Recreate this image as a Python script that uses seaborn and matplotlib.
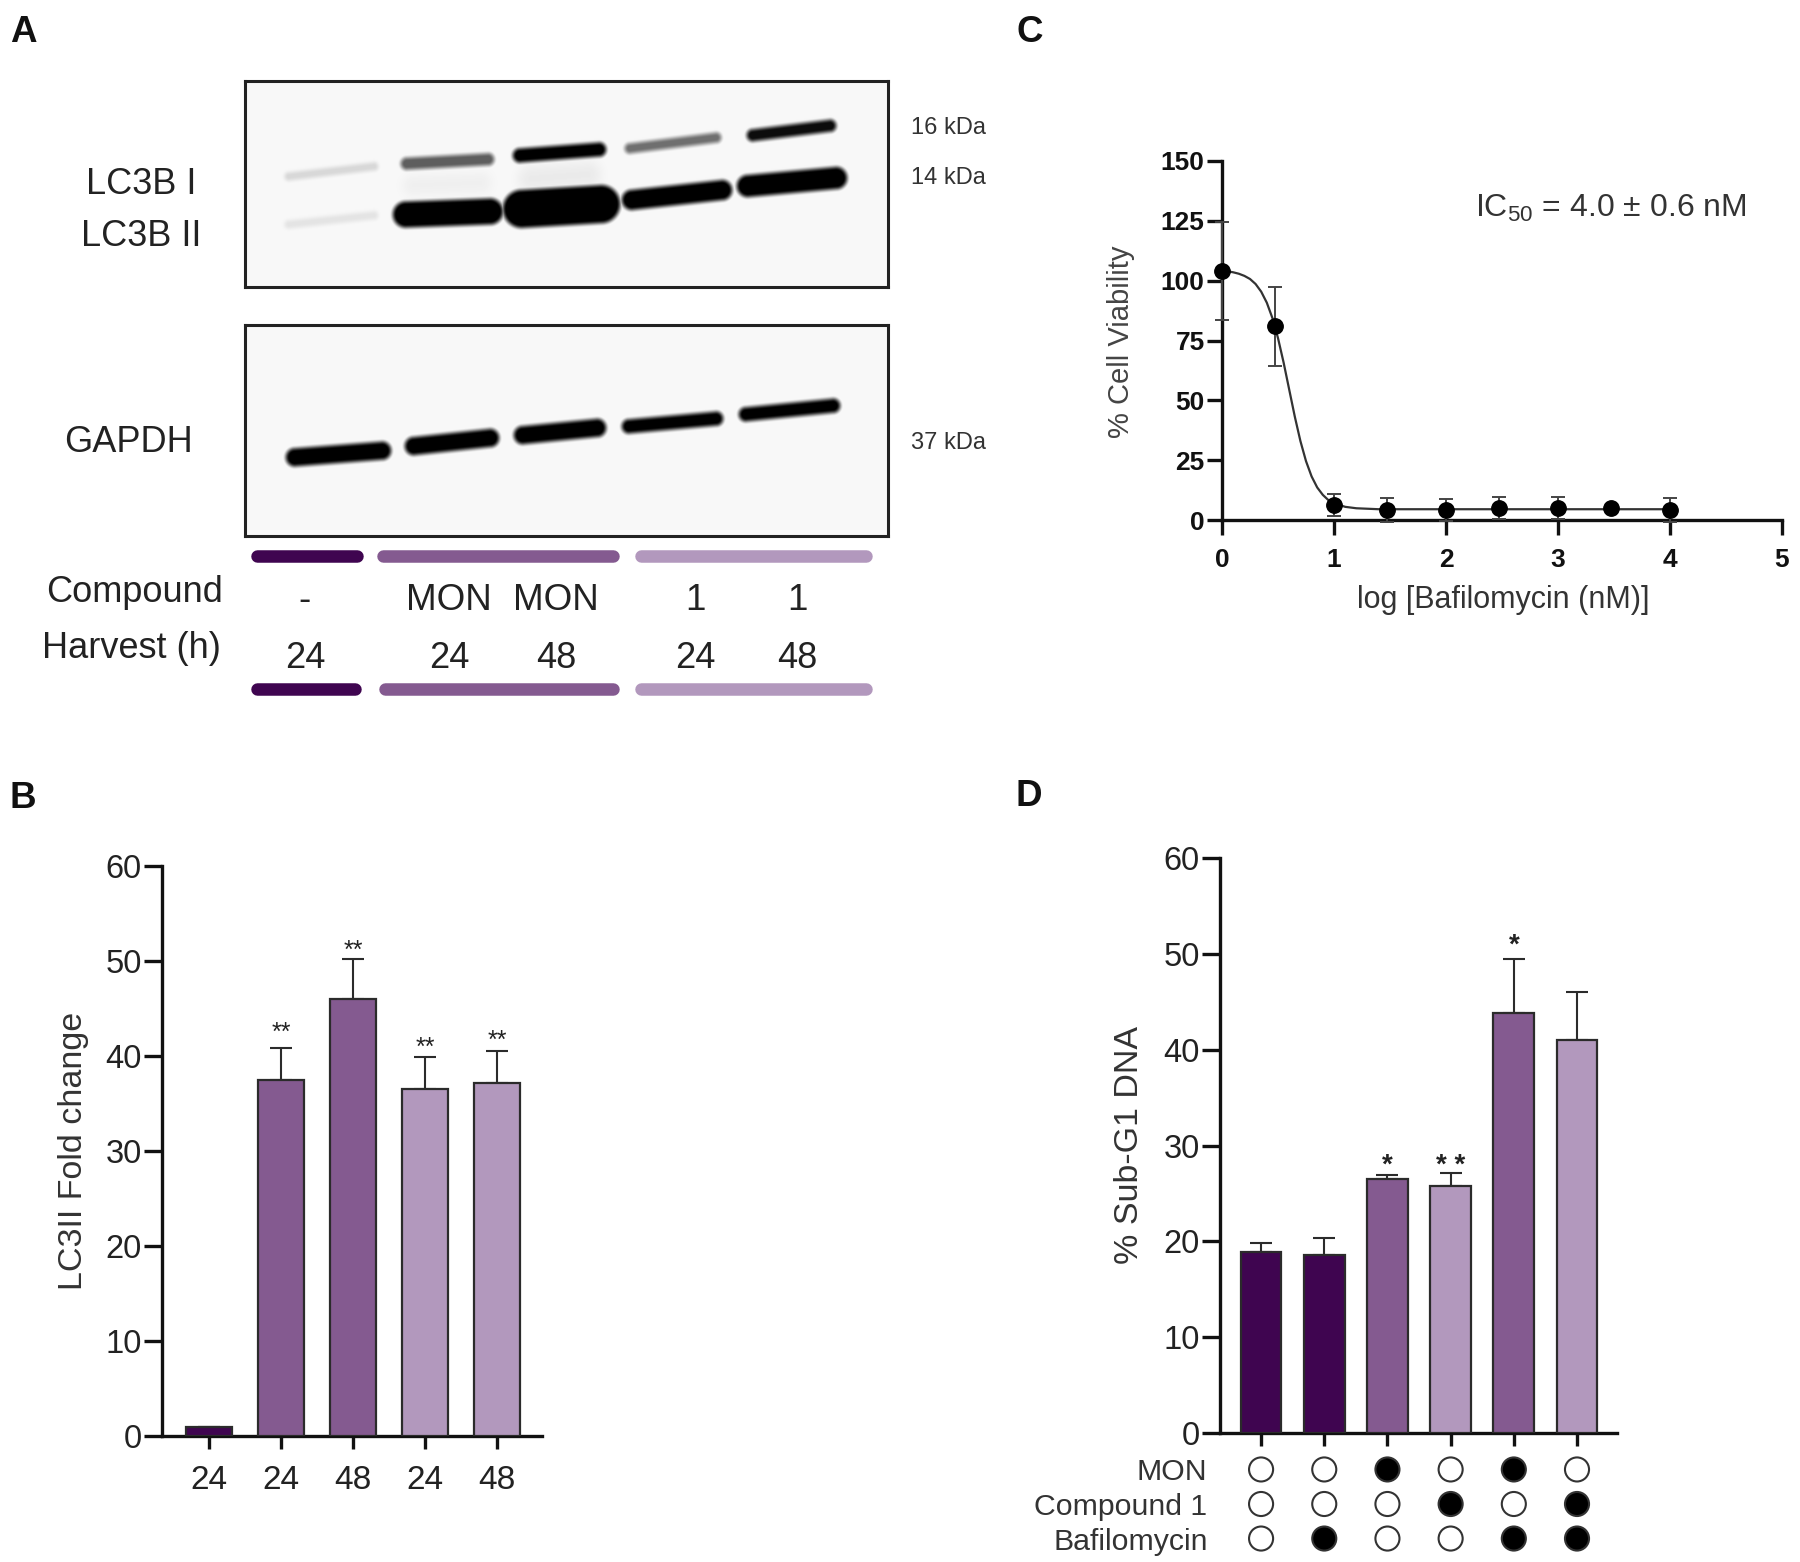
import numpy as np
import pandas as pd
import matplotlib
matplotlib.use('Agg')
import matplotlib.pyplot as plt
import seaborn as sns

sns.set_style('ticks')
plt.rcParams['font.family'] = ['Liberation Sans', 'DejaVu Sans']
plt.rcParams['mathtext.default'] = 'regular'

W, H = 1800, 1562
DARK, MID, LIGHT = '#3f0550', '#845a90', '#b298bd'
EDGE = '#2b2b2b'

# Panel B
b_labels = ['24', '24', '48', '24', '48']
b_values = [1.0, 37.5, 46.0, 36.5, 37.2]
b_err_top = [1.0, 40.8, 50.2, 39.9, 40.5]
b_colors = [DARK, MID, MID, LIGHT, LIGHT]
b_star_y = [None, 42.4, 51.1, 40.9, 41.6]

# Panel C
c_x = [0, 0.477, 1, 1.477, 2, 2.477, 3, 3.477, 4]
c_y = [104, 81, 6.2, 4.3, 4.0, 5.0, 5.0, 5.0, 4.0]
c_err = [20.5, 16.5, 4.6, 5.0, 4.6, 4.7, 4.5, 0.0, 5.0]
fit_x = [0, 0.05, 0.1, 0.15, 0.2, 0.25, 0.3, 0.35, 0.4, 0.45, 0.5, 0.55, 0.6, 0.65,
         0.7, 0.75, 0.8, 0.85, 0.9, 0.95, 1.0, 1.1, 1.2, 1.4, 2, 3, 4]
fit_y = [104.1, 103.9, 103.5, 102.9, 102.0, 100.7, 98.6, 95.4, 90.8, 84.4, 76.0, 65.8,
         54.5, 43.2, 33.0, 24.6, 18.2, 13.6, 10.5, 8.3, 7.0, 5.5, 4.9, 4.5, 4.5, 4.5, 4.5]

# Panel D
d_values = [18.9, 18.6, 26.5, 25.8, 43.8, 41.0]
d_err_top = [19.8, 20.4, 26.9, 27.1, 49.5, 46.0]
d_colors = [DARK, DARK, MID, LIGHT, MID, LIGHT]
d_stars = ['', '', '*', '* *', '*', '']
d_star_y = [0, 0, 27.9, 27.9, 50.9, 0]
d_rows = ['MON', 'Compound 1', 'Bafilomycin']
mon_on = [0, 0, 1, 0, 1, 0]
compound_on = [0, 0, 0, 1, 0, 1]
bafilomycin_on = [0, 1, 0, 0, 1, 1]

# Panel A, bands as x0, y0, x1, y1, half thickness, strength
lc3_bands = [
    (285, 177, 378, 166, 4, 0.13), (401, 164, 494, 159, 6, 0.62), (513, 156, 606, 149, 7, 1.0),
    (625, 149, 721, 137, 5, 0.55), (747, 136, 836, 125, 6, 0.95),
    (520, 180, 600, 174, 12, 0.05), (405, 186, 490, 183, 9, 0.035),
    (285, 225, 378, 215, 4, 0.08), (393, 215, 503, 211, 13, 1.0), (503, 210, 620, 203, 19, 1.0),
    (622, 201, 732, 189, 10, 1.0), (737, 187, 847, 177, 11, 1.0),
]
gapdh_bands = [
    (286, 458, 391, 450, 9, 1.0), (405, 447, 499, 437, 9, 1.0), (514, 436, 606, 427, 9, 1.0),
    (622, 427, 723, 418, 7, 1.0), (739, 415, 840, 405, 7, 1.0),
]
compound_row = ['-', 'MON', 'MON', '1', '1']
harvest_row = ['24', '24', '48', '24', '48']
lane_x = [305, 449, 556, 695, 797]
group_colors = [DARK, MID, LIGHT]


def px_axes(fig, x0, y0, x1, y1):
    return fig.add_axes([x0 / W, 1 - y1 / H, (x1 - x0) / W, (y1 - y0) / H])


def draw_blot(fig, box, bands):
    """Paint soft bands on a light background, coordinates are picture pixels."""
    x0, y0, x1, y1 = box
    ax = px_axes(fig, x0, y0, x1, y1)
    xx, yy = np.meshgrid(np.arange(x0, x1) + 0.5, np.arange(y0, y1) + 0.5)
    img = np.zeros(xx.shape)
    for bx0, by0, bx1, by1, hw, strength in bands:
        # the ends of the band are rounded, so pull the core in by its half thickness
        length = np.hypot(bx1 - bx0, by1 - by0)
        ux, uy = (bx1 - bx0) / length, (by1 - by0) / length
        sx, sy = bx0 + ux * hw, by0 + uy * hw
        dx, dy = ux * (length - 2 * hw), uy * (length - 2 * hw)
        t = np.clip(((xx - sx) * dx + (yy - sy) * dy) / (dx * dx + dy * dy), 0, 1)
        dist = np.hypot(xx - sx - t * dx, yy - sy - t * dy)
        soft = 10 if strength < 0.07 else 3.5
        edge = np.clip((hw + soft - dist) / (2 * soft), 0, 1)
        img = np.maximum(img, strength * edge * edge * (3 - 2 * edge))
    ax.imshow(0.97 * (1 - img), cmap='gray', vmin=0, vmax=1, aspect='auto', interpolation='bilinear')
    ax.set_xticks([])
    ax.set_yticks([])
    for spine in ax.spines.values():
        spine.set_linewidth(2.2)
        spine.set_color('#222222')
    return ax


def style_axis(ax, xsize=24, ysize=23.5, color='#222222'):
    sns.despine(ax=ax)
    for side in ['left', 'bottom']:
        ax.spines[side].set_linewidth(2.4)
        ax.spines[side].set_color('#111111')
    ax.tick_params(axis='y', length=13, width=2.4, labelsize=ysize, pad=1.5, color='#111111', labelcolor=color)
    ax.tick_params(axis='x', length=9, width=2.4, labelsize=xsize, pad=12, color='#111111', labelcolor=color)


def bar_panel(ax, values, err_top, colors):
    frame = pd.DataFrame({'pos': range(len(values)), 'value': values})
    sns.barplot(data=frame, x='pos', y='value', hue='pos', palette=colors, legend=False, saturation=1,
                width=0.645, edgecolor=EDGE, linewidth=1.6, ax=ax, zorder=3)
    upper = np.array(err_top) - np.array(values)
    ax.errorbar(frame['pos'], values, yerr=[np.zeros(len(values)), upper], fmt='none',
                ecolor=EDGE, elinewidth=1.5, capsize=8, capthick=1.5, zorder=2)


fig = plt.figure(figsize=(W / 100, H / 100), dpi=100, facecolor='white')

# overlay for loose text and the colour strips, in picture pixels
over = fig.add_axes([0, 0, 1, 1], zorder=5)
over.set_xlim(0, W)
over.set_ylim(H, 0)
over.axis('off')


def label(x, y, text, size, ha='center', weight='normal', color='#222222'):
    over.text(x, y, text, fontsize=size, ha=ha, va='center', fontweight=weight, color=color)


for letter, lx, ly in [('A', 10, 33), ('B', 10, 798), ('C', 1016, 32), ('D', 1016, 796)]:
    label(lx, ly, letter, 26.5, ha='left', weight='bold', color='#111111')

# Panel A
draw_blot(fig, (245, 81, 888, 287), lc3_bands)
draw_blot(fig, (245, 325, 888, 536), gapdh_bands)

label(196, 184, 'LC3B I', 26, ha='right')
label(201, 237, 'LC3B II', 26, ha='right')
label(193, 443, 'GAPDH', 26, ha='right')
for ky, ktext in [(128, '16 kDa'), (178, '14 kDa'), (443, '37 kDa')]:
    label(911, ky, ktext, 17, ha='left', color='#333333')
label(46, 593, 'Compound', 26, ha='left')
label(42, 649, 'Harvest (h)', 26, ha='left')
for lx, comp, hrs in zip(lane_x, compound_row, harvest_row):
    label(lx, 601, comp, 26.5)
    label(lx, 658, hrs, 26)

for y_strip, spans in [(556, [(251, 363), (377, 619), (635, 872)]),
                       (689, [(251, 361), (379, 619), (635, 872)])]:
    for (s0, s1), col in zip(spans, group_colors):
        over.plot([s0 + 6, s1 - 6], [y_strip, y_strip], color=col, lw=9, solid_capstyle='round')

# Panel B
ax_b = px_axes(fig, 162, 866, 541.5, 1436)
bar_panel(ax_b, b_values, b_err_top, b_colors)
ax_b.set_xlim(-0.653, 4.617)
ax_b.set_ylim(0, 60)
ax_b.set_xticks(range(5))
ax_b.set_xticklabels(b_labels)
ax_b.set_yticks(range(0, 61, 10))
ax_b.set_xlabel('')
ax_b.set_ylabel('')
style_axis(ax_b)
for pos, star in enumerate(b_star_y):
    if star is not None:
        ax_b.text(pos, star, '**', fontsize=18, ha='center', va='center', color='#222222')
over.text(74, 1151, 'LC3II Fold change', fontsize=24.5, rotation=90, ha='center', va='center', color='#333333')

# Panel C
ax_c = px_axes(fig, 1222, 161, 1782, 520)
sns.lineplot(x=fit_x, y=fit_y, color='#333333', linewidth=1.6, ax=ax_c, clip_on=False, zorder=2)
ax_c.errorbar(c_x, c_y, yerr=c_err, fmt='none', ecolor='#444444', elinewidth=1.4, capsize=5,
              capthick=1.4, clip_on=False, zorder=3)
sns.scatterplot(x=c_x, y=c_y, color='black', s=125, edgecolor='black', ax=ax_c, clip_on=False, zorder=4)
ax_c.set_xlim(0, 5)
ax_c.set_ylim(0, 150)
ax_c.set_xticks(range(6))
ax_c.set_yticks(range(0, 151, 25))
style_axis(ax_c, xsize=19, ysize=19, color='#111111')
ax_c.tick_params(axis='x', length=11, pad=9)
ax_c.tick_params(axis='y', length=11)
for tick in ax_c.get_xticklabels() + ax_c.get_yticklabels():
    tick.set_fontweight('bold')
over.text(1121, 342, '% Cell Viability', fontsize=21, rotation=90, ha='center', va='center', color='#444444')
label(1503, 600, 'log [Bafilomycin (nM)]', 22, color='#333333')
label(1611, 208, 'IC$_{50}$ = 4.0 ± 0.6 nM', 23, color='#333333')

# Panel D
ax_d = px_axes(fig, 1220, 858, 1616.5, 1433)
bar_panel(ax_d, d_values, d_err_top, d_colors)
ax_d.set_xlim(-0.65, 5.625)
ax_d.set_ylim(0, 60)
ax_d.set_xticks(range(6))
ax_d.set_xticklabels([])
ax_d.set_yticks(range(0, 61, 10))
ax_d.set_xlabel('')
ax_d.set_ylabel('')
style_axis(ax_d)
for pos, (star_text, star) in enumerate(zip(d_stars, d_star_y)):
    if star_text:
        ax_d.text(pos, star, star_text, fontsize=20, fontweight='bold', ha='center', va='center', color='#222222')
over.text(1129, 1145, '% Sub-G1 DNA', fontsize=24.5, rotation=90, ha='center', va='center', color='#333333')

# treatment matrix under panel D
matrix = pd.DataFrame({
    'pos': list(range(6)) * 3,
    'row': [0] * 6 + [1] * 6 + [2] * 6,
    'on': mon_on + compound_on + bafilomycin_on,
})
ax_m = px_axes(fig, 1220, 1451.5, 1616.5, 1556.5)
sns.scatterplot(data=matrix, x='pos', y='row', hue='on', palette={0: 'white', 1: 'black'}, legend=False,
                s=300, edgecolor='#333333', linewidth=1.5, ax=ax_m, clip_on=False)
ax_m.set_xlim(-0.65, 5.625)
ax_m.set_ylim(2.52, -0.52)
ax_m.set_xticks([])
ax_m.set_yticks(range(3))
ax_m.set_yticklabels(d_rows)
ax_m.set_xlabel('')
ax_m.set_ylabel('')
ax_m.tick_params(axis='y', length=0, labelsize=21.8, pad=9, labelcolor='#333333')
sns.despine(ax=ax_m, left=True, bottom=True)
ax_m.patch.set_visible(False)

fig.savefig('out.png', dpi=100)
